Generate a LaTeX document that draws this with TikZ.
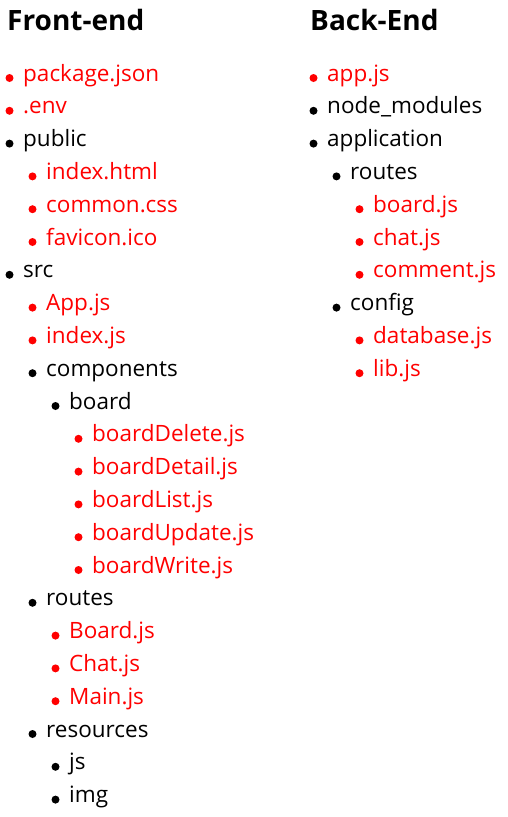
\documentclass[tikz,border=0pt]{standalone}
\usepackage{fontspec}
\setmainfont{Open Sans}
\begin{document}
\begin{tikzpicture}[x=1pt,y=-1pt,
  entry/.style={anchor=base west, inner sep=0pt, font=\fontsize{22.5}{22.5}\selectfont},
  heading/.style={anchor=base west, inner sep=0pt, font=\fontsize{28}{28}\selectfont\bfseries},
  dot/.style={circle, fill, inner sep=0pt, minimum size=8pt}]
\useasboundingbox (0,0) rectangle (507,817);
\node[heading] (fh) at (7,30) {Front-end};
\node[heading] (bh) at (310,30) {Back-End};
\foreach \lvl/\c/\t [count=\i from 0] in {
  0/red/package.json, 0/red/.env, 0/black/public,
  1/red/index.html, 1/red/common.css, 1/red/favicon.ico,
  0/black/src, 1/red/App.js, 1/red/index.js, 1/black/components,
  2/black/board, 3/red/boardDelete.js, 3/red/boardDetail.js,
  3/red/boardList.js, 3/red/boardUpdate.js, 3/red/boardWrite.js,
  1/black/routes, 2/red/Board.js, 2/red/Chat.js, 2/red/Main.js,
  1/black/resources, 2/black/js, 2/black/img} {
  \node[entry, text=\c] (f\i) at ({23+23*\lvl}, {81+32.8*\i}) {\t};
  \node[dot, fill=\c] (fb\i) at ({9.5+23*\lvl}, {78+32.8*\i}) {};
}
\foreach \lvl/\c/\t [count=\i from 0] in {
  0/red/app.js, 0/black/node\_modules, 0/black/application,
  1/black/routes, 2/red/board.js, 2/red/chat.js, 2/red/comment.js,
  1/black/config, 2/red/database.js, 2/red/lib.js} {
  \node[entry, text=\c] (b\i) at ({327+23*\lvl}, {81+32.8*\i}) {\t};
  \node[dot, fill=\c] (bb\i) at ({313.5+23*\lvl}, {78+32.8*\i}) {};
}
\end{tikzpicture}
\end{document}
